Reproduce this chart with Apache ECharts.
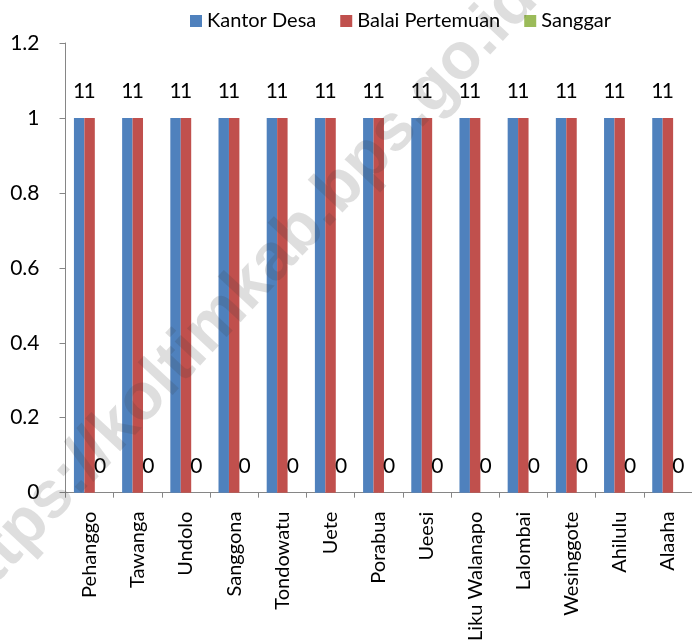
<!DOCTYPE html>
<html>
<head>
<meta charset="utf-8">
<script src="https://cdn.jsdelivr.net/npm/echarts@6/dist/echarts.min.js"></script>
<style>
html,body{margin:0;padding:0;background:#fff;}
#chart{width:692px;height:644px;}
</style>
</head>
<body>
<div id="chart"></div>
<script>
// ---- data ----
const categories = ['Pehanggo','Tawanga','Undolo','Sanggona','Tondowatu','Uete','Porabua','Ueesi','Liku Walanapo','Lalombai','Wesinggote','Ahilulu','Alaaha'];
const kantorDesa = [1,1,1,1,1,1,1,1,1,1,1,1,1];
const balaiPertemuan = [1,1,1,1,1,1,1,1,1,1,1,1,1];
const sanggar = [0,0,0,0,0,0,0,0,0,0,0,0,0];
const seriesNames = ['Kantor Desa','Balai Pertemuan','Sanggar'];
const yTicks = {min:0, max:1.2, interval:0.2};
const watermarkText = 'https://koltimkab.bps.go.id';

const FONT = 'Lato, Carlito, "Open Sans", sans-serif';
const colors = ['#4F81BD','#C0504D','#9BBB59'];

const chart = echarts.init(document.getElementById('chart'), null, {renderer:'canvas'});

function barSeries(name, data, color){
  return {
    name: name,
    type: 'bar',
    data: data,
    barGap: '0%',
    barCategoryGap: '35%',
    itemStyle: {color: color},
    label: {
      show: true,
      position: 'top',
      distance: 16,
      color: '#000',
      fontFamily: FONT,
      fontSize: 21
    }
  };
}

chart.setOption({
  animation: false,
  backgroundColor: '#fff',
  color: colors,
  textStyle: {fontFamily: FONT},
  legend: {
    data: seriesNames,
    left: 185,
    top: 6,
    icon: 'rect',
    itemWidth: 12,
    itemHeight: 12,
    itemGap: 24,
    textStyle: {fontFamily: FONT, fontSize: 20, color: '#000', lineHeight: 20}
  },
  grid: {left: 65.5, top: 43, width: 632, height: 454, containLabel: false},
  xAxis: {
    type: 'category',
    data: categories,
    axisLine: {lineStyle: {color: '#868686', width: 1}},
    axisTick: {show: true, length: 5, lineStyle: {color: '#868686'}},
    axisLabel: {
      rotate: 90,
      margin: 19,
      interval: 0,
      color: '#000',
      fontFamily: FONT,
      fontSize: 20
    },
    splitLine: {show: false}
  },
  yAxis: {
    type: 'value',
    min: yTicks.min,
    max: yTicks.max,
    interval: yTicks.interval,
    axisLine: {show: true, lineStyle: {color: '#868686', width: 1}},
    axisTick: {show: true, length: 6, lineStyle: {color: '#868686'}},
    axisLabel: {
      margin: 26,
      color: '#000',
      fontFamily: FONT,
      fontSize: 21,
      formatter: function(v){ return String(Math.round(v*10)/10); }
    },
    splitLine: {show: false}
  },
  series: [
    barSeries(seriesNames[0], kantorDesa, colors[0]),
    barSeries(seriesNames[1], balaiPertemuan, colors[1]),
    barSeries(seriesNames[2], sanggar, colors[2])
  ],
  graphic: [{
    type: 'text',
    x: 240,
    y: 296,
    rotation: 47 * Math.PI / 180,
    z: 100,
    silent: true,
    style: {
      text: watermarkText,
      font: 'bold 66px "Liberation Sans", Arial, sans-serif',
      fill: 'rgba(60,60,60,0.17)',
      textAlign: 'center',
      textVerticalAlign: 'middle'
    }
  }]
});
</script>
</body>
</html>
